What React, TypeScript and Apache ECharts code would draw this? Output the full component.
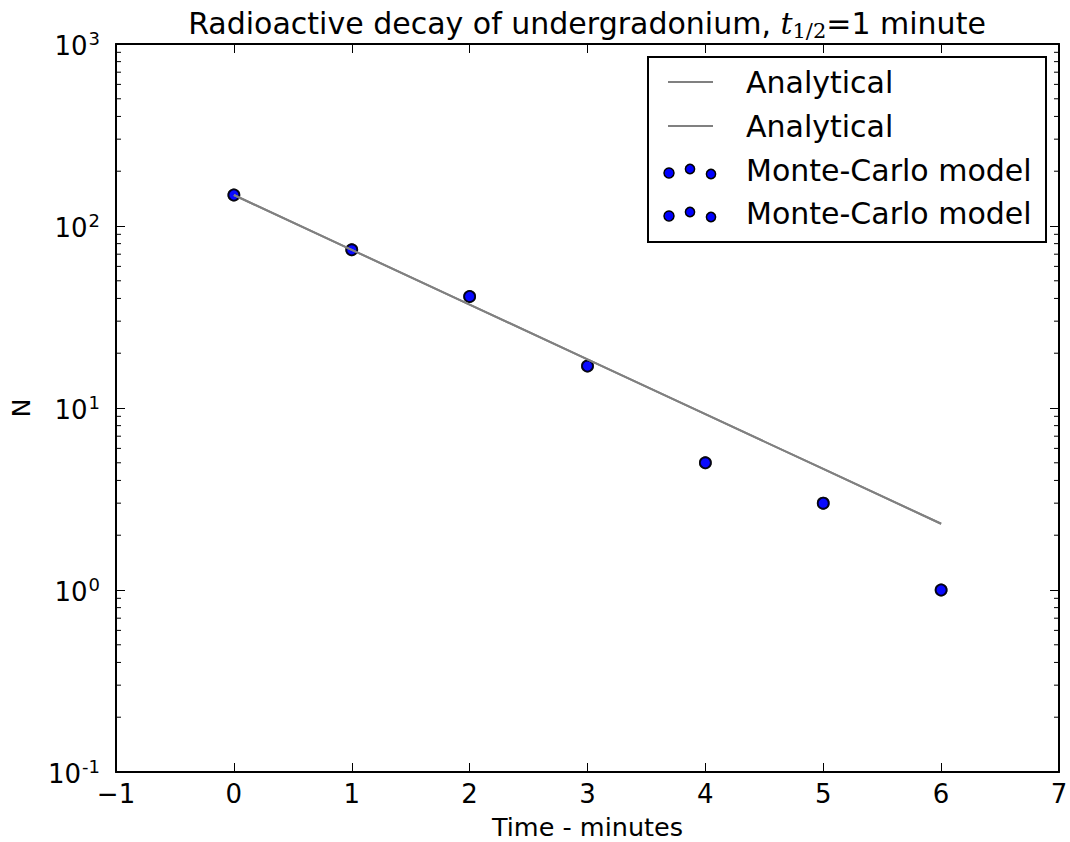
import React, { useEffect, useRef } from "react";
import * as echarts from "echarts";

const times = [0, 1, 2, 3, 4, 5, 6];
const analytical = [148, 74, 37, 18.5, 9.25, 4.625, 2.3125];
const monteCarlo = [148, 74, 41, 17, 5, 3, 1];
const xTicks = [-1, 0, 1, 2, 3, 4, 5, 6, 7];
const yDecades = [0.1, 1, 10, 100, 1000];
const minorMultipliers = [2, 3, 4, 5, 6, 7, 8, 9];
const legendItems = ["Analytical", "Analytical", "Monte-Carlo model", "Monte-Carlo model"];

const FONT = "DejaVu Sans";

export default function App() {
  const ref = useRef<HTMLDivElement>(null);
  useEffect(() => {
    if (!ref.current) return;
    const chart = echarts.init(ref.current, undefined, { renderer: "svg" });
    const minorValues: number[] = [];
    for (let i = 0; i < yDecades.length - 1; i++) {
      for (const m of minorMultipliers) minorValues.push(yDecades[i] * m);
    }
    const lineData = times.map((t, i) => [t, analytical[i]]);
    const mcData = times.map((t, i) => [t, monteCarlo[i]]);
    const axisLine = { show: true, onZero: false, lineStyle: { color: "#000", width: 2 } };
    const axisTick = { show: true, inside: true, length: 9, lineStyle: { color: "#000", width: 1 } };
    const labelFmt = (v: number) => {
      const e = Math.round(Math.log10(v));
      return `{b|10}{s|${e}}`;
    };
    const legendX = 648, legendY = 57, legendW = 398, legendH = 185;
    const rowYs = [82, 126, 170, 213];
    const legendGraphics: any[] = [
      {
        type: "rect",
        shape: { x: legendX, y: legendY, width: legendW, height: legendH },
        style: { fill: "#fff", stroke: "#000", lineWidth: 2 },
        z: 100,
      },
    ];
    legendItems.forEach((name, i) => {
      const y = rowYs[i];
      if (name === "Analytical") {
        legendGraphics.push({
          type: "line",
          shape: { x1: 668, y1: y, x2: 713, y2: y },
          style: { stroke: "#808080", lineWidth: 2 },
          z: 101,
        });
      } else {
        const offs = [{ x: 669, dy: 3, r: 5 }, { x: 690, dy: -1, r: 4.6 }, { x: 711, dy: 4, r: 4.6 }];
        offs.forEach((o) =>
          legendGraphics.push({
            type: "circle",
            shape: { cx: o.x, cy: y + o.dy, r: o.r },
            style: { fill: "#0000ff", stroke: "#000", lineWidth: 1.5 },
            z: 101,
          })
        );
      }
      legendGraphics.push({
        type: "text",
        x: 746,
        y: y,
        style: { text: name, font: `30px '${FONT}'`, fill: "#000", verticalAlign: "middle" },
        z: 101,
      });
    });

    chart.setOption({
      animation: false,
      backgroundColor: "#fff",
      textStyle: { fontFamily: FONT },
      grid: { left: 116, top: 44, right: 11, bottom: 70, containLabel: false, outerBoundsMode: "none" },
      graphic: [
        {
          type: "text",
          x: 587,
          y: 23,
          style: {
            text: "{a|Radioactive decay of undergradonium, }{t|t}{sub|1/2}{a|=1 minute}",
            align: "center",
            verticalAlign: "middle",
            rich: {
              a: { fontFamily: FONT, fontSize: 30, fill: "#000", lineHeight: 36 },
              t: { fontFamily: "DejaVu Serif", fontStyle: "italic", fontSize: 30, fill: "#000", lineHeight: 36 },
              sub: { fontFamily: "DejaVu Serif", fontSize: 21, fill: "#000", lineHeight: 36, verticalAlign: "bottom", padding: [12, 0, 0, 0] },
            },
          },
          z: 100,
        },
        ...legendGraphics,
      ],
      xAxis: [
        {
          type: "value",
          min: xTicks[0],
          max: xTicks[xTicks.length - 1],
          interval: 1,
          position: "bottom",
          axisLine,
          axisTick,
          splitLine: { show: false },
          axisLabel: {
            fontSize: 26,
            color: "#000",
            margin: 9,
            fontFamily: FONT,
            formatter: (v: number) => (v < 0 ? "\u2212" + Math.abs(v) : String(v)),
          },
          name: "Time - minutes",
          nameLocation: "middle",
          nameGap: 42,
          nameTextStyle: { fontSize: 25.5, lineHeight: 26, color: "#000", fontFamily: FONT },
        },
        {
          type: "value",
          min: xTicks[0],
          max: xTicks[xTicks.length - 1],
          interval: 1,
          position: "top",
          axisLine,
          axisTick,
          splitLine: { show: false },
          axisLabel: { show: false },
        },
      ],
      yAxis: [
        {
          type: "log",
          logBase: 10,
          min: yDecades[0],
          max: yDecades[yDecades.length - 1],
          position: "left",
          axisLine,
          axisTick,
          splitLine: { show: false },
          axisLabel: {
            color: "#000",
            margin: 16,
            formatter: labelFmt,
            rich: {
              b: { fontSize: 26, fontFamily: FONT, color: "#000", lineHeight: 30, verticalAlign: "bottom" },
              s: { fontSize: 18, fontFamily: FONT, color: "#000", lineHeight: 30, verticalAlign: "top", padding: [0, 0, 14, 1] },
            },
          },
          name: "N",
          nameLocation: "middle",
          nameGap: 82,
          nameTextStyle: { fontSize: 25.5, color: "#000", fontFamily: FONT },
        },
        {
          type: "log",
          logBase: 10,
          min: yDecades[0],
          max: yDecades[yDecades.length - 1],
          position: "right",
          axisLine,
          axisTick,
          splitLine: { show: false },
          axisLabel: { show: false },
        },
      ],
      series: [
        {
          type: "custom",
          name: "minorTicks",
          xAxisIndex: 0,
          yAxisIndex: 0,
          silent: true,
          clip: false,
          data: minorValues.map((v) => [0, v]),
          renderItem: (params: any, api: any) => {
            const p = api.coord([0, api.value(1)]);
            const cs = params.coordSys;
            return {
              type: "group",
              children: [
                { type: "line", shape: { x1: cs.x, y1: p[1], x2: cs.x + 5, y2: p[1] }, style: { stroke: "#000", lineWidth: 1 } },
                { type: "line", shape: { x1: cs.x + cs.width, y1: p[1], x2: cs.x + cs.width - 5, y2: p[1] }, style: { stroke: "#000", lineWidth: 1 } },
              ],
            };
          },
        },
        {
          type: "scatter",
          name: "Monte-Carlo model",
          data: mcData,
          symbol: "circle",
          symbolSize: 11,
          itemStyle: { color: "#0000ff", borderColor: "#000", borderWidth: 1.8 },
          z: 3,
        },
        {
          type: "scatter",
          name: "Monte-Carlo model",
          data: mcData,
          symbol: "circle",
          symbolSize: 11,
          itemStyle: { color: "#0000ff", borderColor: "#000", borderWidth: 1.8 },
          z: 3,
        },
        {
          type: "line",
          name: "Analytical",
          data: lineData,
          showSymbol: false,
          symbol: "none",
          lineStyle: { color: "#808080", width: 2 },
          z: 4,
        },
        {
          type: "line",
          name: "Analytical",
          data: lineData,
          showSymbol: false,
          symbol: "none",
          lineStyle: { color: "#808080", width: 2 },
          z: 4,
        },
      ],
    });
    return () => chart.dispose();
  }, []);
  return (
    <div
      ref={ref}
      style={{ position: "fixed", left: 0, top: 0, width: 1070, height: 842, background: "#fff" }}
    />
  );
}
